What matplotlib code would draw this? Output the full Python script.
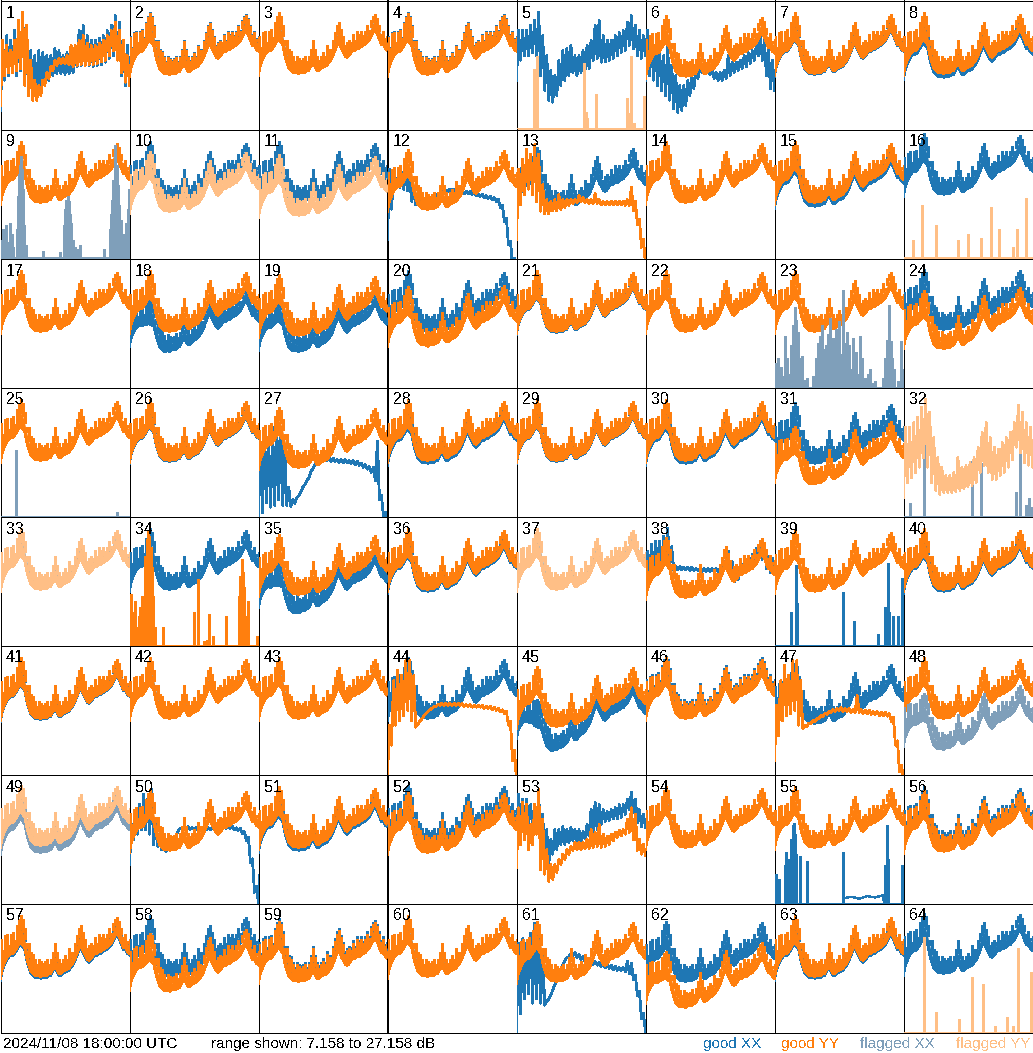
import numpy as np
import matplotlib
matplotlib.use('Agg')
import matplotlib.pyplot as plt

plt.rcParams['font.family'] = ['Liberation Sans', 'DejaVu Sans']
plt.rcParams['text.antialiased'] = False
plt.rcParams['lines.antialiased'] = False
plt.rcParams['patch.antialiased'] = False

DB_MIN, DB_MAX = 7.158, 27.158
TIMESTAMP = '2024/11/08 18:00:00 UTC'
PANELS = list(range(1, 65))

# typical spectrum shape (65 channels): band bottom, band top, spike tips, dB
TYP_LO = [15.5, 17.1, 17.9, 18.6, 19.1, 19.4, 19.4, 19.7, 20.2, 20.7,
          21.0, 20.7, 20.2, 18.6, 17.5, 16.6, 16.3, 16.0, 16.0, 16.0,
          15.8, 16.0, 16.0, 16.0, 16.2, 16.3, 16.9, 17.5, 16.9, 16.3,
          16.3, 16.6, 16.8, 16.9, 17.1, 17.5, 17.9, 18.5, 19.4, 20.2,
          20.7, 19.7, 19.1, 18.5, 18.3, 18.6, 19.1, 19.4, 19.4, 19.7,
          19.7, 20.0, 20.2, 20.3, 20.7, 21.0, 21.6, 22.2, 22.5, 21.9,
          21.0, 20.3, 20.2, 19.7, 19.4]
TYP_TOP = [17.5, 18.6, 19.4, 19.7, 20.2, 20.5, 20.6, 20.9, 21.6, 22.6,
           23.2, 22.8, 21.6, 20.2, 18.9, 17.8, 17.5, 17.1, 17.2, 17.0,
           16.9, 17.2, 17.0, 17.1, 17.3, 17.5, 18.3, 19.0, 18.2, 17.4,
           17.5, 17.8, 18.0, 18.1, 18.4, 18.8, 19.2, 19.8, 20.9, 21.9,
           22.3, 21.2, 20.4, 19.7, 19.5, 19.8, 20.3, 20.6, 20.6, 20.9,
           20.9, 21.2, 21.4, 21.5, 21.9, 22.3, 23.0, 23.8, 24.0, 23.4,
           22.4, 21.6, 21.4, 21.0, 20.6]
TYP_PK = [21.7, 20.0, 22.2, 22.5, 20.8, 22.5, 22.8, 21.5, 23.8, 24.8,
          25.3, 24.8, 23.3, 21.0, 21.0, 19.7, 19.4, 18.6, 17.8, 18.6,
          18.2, 18.0, 18.2, 18.6, 17.8, 18.6, 19.7, 21.0, 19.7, 18.6,
          18.0, 18.6, 19.1, 18.6, 20.2, 19.7, 19.6, 21.0, 22.2, 23.3,
          23.8, 22.8, 21.7, 20.2, 20.7, 21.0, 20.8, 21.9, 21.0, 22.5,
          22.0, 22.5, 21.8, 22.5, 23.3, 22.6, 24.1, 24.8, 25.1, 24.4,
          23.3, 22.0, 22.5, 21.4, 21.7]
# relative shape of the low-band trough seen in some XX/YY spectra
DIP = [0.0, 0.1, 0.2, 0.3, 0.4, 0.5, 0.6, 0.7, 1.0, 1.4,
       1.6, 1.5, 1.2, 1.0, 1.0, 1.0, 1.0, 1.0, 1.0, 0.95,
       0.9, 0.85, 0.8, 0.75, 0.7, 0.65, 0.6, 0.55, 0.5, 0.45,
       0.4, 0.35, 0.3, 0.25, 0.2, 0.15, 0.1, 0.05, 0.0, 0.0,
       0.0, 0.0, 0.0, 0.0, 0.0, 0.0, 0.0, 0.0, 0.0, 0.0,
       0.0, 0.0, 0.0, 0.0, 0.0, 0.0, 0.0, 0.0, 0.0, 0.0,
       0.0, 0.0, 0.0, 0.0, 0.0]

# per-antenna level shift (dB) and trough depth (dB), panels 1..64
XX_OFF = [0, 0, 0, 0, 0, 0, -0.15, -0.6,
          0, 0, 0, 0, -0.8, 0, -0.6, 1.25,
          0, -2.0, -2.6, 0, -0.15, 0, 0, 0.3,
          0, -0.15, 0, -0.45, -0.15, -0.45, -0.45, 0,
          0, 0, -2.5, -0.3, 0, 0, 0, -0.3,
          -0.15, 0, 0, 0, -2.8, 0.3, -0.8, -4.0,
          -0.8, 0, -0.45, 0.3, 0, 0, 0, 0,
          -0.3, 0, -0.45, 0, 0, -0.8, -0.3, 0.45]
YY_OFF = [0, -0.15, 0, -0.15, 0, -0.45, 0, 0,
          0, -1.4, -2.0, -1.1, 0, 0, 0, 0,
          0, 0, -0.6, -2.0, 0, 0, 0, -2.3,
          0, 0, -1.1, 0, 0, 0, -3.1, 0,
          0, 0, -0.8, 0, 0, -1.25, -0.3, 0,
          0, 0, 0, 0, -1.25, 0, 0, 0,
          0.3, -0.45, 0, -0.8, 0, 0, 0, -0.6,
          0, -1.85, -0.8, 0, -0.8, -3.9, 0, 0]
XX_DIP = {18: 1.25, 19: 0.6, 35: 1.25, 45: 2.3, 48: 0.9}
YY_DIP = {20: 0.3, 24: 0.45, 31: 0.6, 58: 0.5, 62: 1.0}

XX_FLAGGED = [9, 23, 25, 32, 48, 49]
YY_FLAGGED = [5, 10, 11, 16, 32, 33, 37, 49, 64]

# irregular spectra, 33 channels: lower / upper edge of the trace, dB
P1_XX_LO = [10.1, 14.8, 15.5, 16.0, 15.5, 16.3, 14.0, 12.4, 12.0, 12.4, 12.9, 14.0, 14.8, 15.5, 15.8, 15.8, 15.7,
            15.8, 16.0, 16.9, 17.1, 17.1, 17.1, 16.9, 17.1, 17.2, 17.6, 18.2, 18.6, 17.9, 15.5, 14.0, 14.8]
P1_XX_HI = [21.0, 21.7, 21.0, 22.5, 24.1, 25.3, 22.5, 19.4, 18.6, 19.4, 19.1, 18.6, 18.6, 19.7, 19.4, 18.6, 19.1,
            18.6, 19.4, 22.5, 23.3, 21.7, 21.0, 21.0, 21.3, 21.7, 22.5, 23.3, 24.8, 23.8, 21.0, 20.2, 19.4]
P1_YY_LO = [10.9, 15.5, 16.0, 16.0, 16.3, 16.6, 14.0, 12.4, 11.7, 11.7, 12.4, 14.0, 15.1, 16.3, 17.1, 17.4, 17.4,
            17.2, 16.9, 17.1, 17.2, 17.1, 17.2, 17.2, 17.4, 17.6, 17.9, 18.6, 19.4, 17.9, 16.0, 14.5, 14.0]
P1_YY_HI = [21.0, 20.2, 19.4, 21.0, 24.1, 25.3, 23.3, 17.9, 14.8, 14.0, 14.8, 16.0, 16.9, 17.9, 18.2, 18.2, 18.6,
            20.2, 20.2, 21.0, 21.7, 20.6, 20.2, 20.2, 20.6, 21.0, 21.7, 22.5, 23.8, 22.5, 21.0, 18.6, 17.9]
P5_XX_LO = [14.8, 17.9, 18.6, 18.6, 19.1, 18.6, 15.5, 13.2, 11.7, 11.4, 12.4, 14.0, 14.8, 15.5, 16.0, 15.5, 16.0,
            16.3, 16.6, 17.9, 18.2, 17.6, 17.6, 17.9, 18.2, 18.6, 19.1, 19.4, 20.2, 19.7, 18.6, 18.2, 18.6]
P5_XX_HI = [22.5, 22.5, 22.5, 23.3, 24.1, 25.3, 21.7, 18.6, 16.3, 15.5, 17.9, 19.4, 19.7, 20.2, 18.6, 18.6, 19.4,
            20.2, 21.0, 23.3, 24.1, 21.7, 21.0, 21.0, 21.7, 22.2, 22.5, 23.8, 24.8, 23.3, 22.5, 21.7, 22.5]
P6_XX_LO = [14.8, 15.5, 14.8, 14.0, 13.2, 12.4, 11.7, 10.4, 9.8, 10.1, 10.9, 12.4, 13.5, 15.1, 16.0, 16.3, 15.7,
            15.1, 14.8, 14.8, 15.1, 15.5, 16.0, 16.3, 16.6, 16.9, 17.4, 17.9, 18.6, 17.9, 15.5, 13.5, 13.2]
P6_XX_HI = [22.5, 21.0, 20.2, 19.4, 18.6, 20.2, 17.1, 15.5, 14.0, 14.0, 14.8, 15.5, 16.0, 16.6, 16.9, 16.9, 16.6,
            16.0, 16.0, 16.3, 18.6, 17.6, 17.6, 17.9, 18.6, 19.1, 19.4, 20.2, 21.7, 21.0, 19.4, 17.9, 17.1]
P12_XX_LO = [10.1, 14.8, 17.9, 18.2, 17.9, 17.6, 16.0, 15.5, 15.7, 15.8, 16.0, 16.3, 16.8, 17.2, 17.4, 17.6, 17.6,
             17.6, 17.4, 17.2, 17.2, 17.1, 16.9, 16.8, 16.6, 16.5, 16.3, 16.0, 15.1, 12.9, 9.3, 6.2, 6.2]
P12_XX_HI = [21.0, 20.2, 19.7, 20.6, 20.2, 19.7, 17.9, 16.0, 16.0, 16.2, 16.3, 16.6, 17.1, 17.6, 17.7, 17.9, 17.9,
             17.9, 17.7, 17.6, 17.6, 17.4, 17.2, 17.1, 16.9, 16.8, 16.6, 16.3, 15.4, 13.4, 9.8, 7.2, 6.2]
P13_YY_LO = [10.1, 15.5, 17.1, 17.9, 17.1, 16.0, 14.5, 14.1, 14.1, 14.5, 14.5, 14.8, 15.1, 15.4, 15.7, 15.8, 16.0,
             15.8, 15.7, 15.7, 15.7, 15.5, 15.5, 15.5, 15.5, 15.5, 15.5, 15.4, 15.4, 14.5, 12.4, 8.9, 6.2]
P13_YY_HI = [21.0, 22.5, 24.1, 23.3, 24.8, 23.3, 18.6, 16.3, 16.0, 16.3, 17.1, 16.3, 16.3, 16.3, 16.3, 16.9, 16.6,
             16.3, 16.3, 17.2, 16.3, 16.0, 16.0, 16.0, 16.0, 16.0, 16.0, 16.3, 18.2, 16.0, 13.2, 10.1, 7.0]
P27_XX_LO = [7.2, 7.8, 9.3, 8.6, 8.9, 9.8, 8.9, 8.9, 8.7, 9.2, 10.4, 11.7, 12.7, 14.1, 15.2, 15.8, 16.0,
             15.8, 15.7, 15.7, 15.5, 15.5, 15.5, 15.4, 15.2, 15.1, 14.8, 14.5, 14.0, 12.7, 9.8, 7.2, 6.2]
P27_XX_HI = [17.9, 20.2, 18.6, 21.0, 21.7, 21.0, 17.9, 11.7, 9.8, 10.1, 11.0, 12.1, 13.2, 14.6, 15.7, 16.3, 16.5,
             16.3, 16.2, 16.0, 16.0, 16.0, 15.8, 15.8, 15.7, 15.4, 15.2, 14.9, 14.8, 18.8, 10.4, 7.8, 6.2]
P32_YY_LO = [10.1, 12.4, 13.2, 14.0, 14.8, 16.3, 14.8, 12.4, 11.2, 10.6, 10.9, 10.9, 10.9, 11.0, 11.2, 11.4, 11.7,
             12.0, 12.4, 14.0, 15.1, 14.0, 12.9, 12.9, 13.5, 14.0, 14.8, 16.0, 17.9, 17.1, 15.5, 15.1, 14.8]
P32_YY_HI = [21.0, 21.0, 21.7, 22.5, 24.1, 25.3, 23.3, 19.4, 16.3, 14.8, 13.5, 13.5, 14.0, 16.3, 14.8, 15.1, 15.5,
             16.3, 17.9, 20.2, 21.7, 19.4, 17.9, 17.6, 18.6, 19.4, 20.2, 21.7, 24.4, 23.3, 21.7, 21.0, 20.2]
P38_XX_LO = [15.5, 17.9, 18.6, 19.4, 19.7, 20.2, 19.4, 18.9, 18.9, 18.9, 18.9, 18.8, 18.8, 18.8, 18.6, 18.6, 18.6,
             18.6, 18.6, 18.2, 19.0, 17.9, 17.0, 17.4, 18.2, 18.5, 19.0, 19.8, 21.0, 20.5, 19.0, 18.5, 18.2]
P38_XX_HI = [21.7, 22.8, 23.3, 23.3, 24.1, 25.3, 22.5, 19.4, 19.4, 19.3, 19.3, 19.3, 19.1, 19.1, 19.1, 19.1, 19.1,
             19.1, 19.1, 20.2, 21.8, 20.2, 19.1, 19.5, 20.2, 20.7, 21.3, 22.3, 23.3, 22.6, 21.0, 20.7, 20.2]
P44_YY_LO = [7.2, 11.7, 14.8, 15.5, 16.3, 17.1, 15.5, 14.5, 15.4, 16.3, 16.9, 17.4, 17.7, 17.9, 17.9, 17.9, 17.9,
             17.9, 17.9, 17.7, 17.7, 17.6, 17.6, 17.6, 17.4, 17.4, 17.2, 17.1, 16.9, 16.6, 14.8, 9.3, 6.2]
P44_YY_HI = [14.8, 21.7, 23.3, 22.5, 24.8, 24.8, 22.5, 14.9, 15.7, 16.6, 17.2, 17.7, 18.0, 18.2, 18.2, 18.2, 18.2,
             18.2, 18.2, 18.0, 18.0, 17.9, 17.9, 17.9, 17.7, 17.7, 17.6, 17.4, 17.2, 16.9, 15.4, 10.9, 7.2]
P47_YY_LO = [9.3, 13.2, 15.5, 16.3, 16.6, 17.1, 14.8, 14.3, 14.6, 15.1, 15.4, 15.8, 16.2, 16.5, 16.8, 16.9, 17.1,
             16.9, 16.9, 16.8, 16.8, 16.8, 16.6, 16.6, 16.5, 16.5, 16.3, 16.3, 16.2, 15.4, 11.7, 7.6, 6.2]
P47_YY_HI = [17.9, 21.7, 24.1, 22.5, 24.8, 24.8, 21.7, 14.8, 15.1, 15.5, 15.8, 16.3, 16.6, 16.9, 17.2, 17.4, 17.6,
             17.4, 17.4, 17.2, 19.4, 17.2, 17.1, 17.1, 16.9, 16.9, 16.8, 16.8, 16.6, 16.0, 12.4, 8.6, 6.2]
P50_XX_LO = [13.2, 17.1, 17.9, 18.6, 18.6, 17.9, 16.3, 16.0, 15.5, 15.2, 16.0, 17.1, 18.3, 18.8, 18.8, 18.6, 18.6,
             18.5, 18.5, 18.6, 18.6, 18.8, 18.8, 18.8, 18.8, 18.8, 18.6, 18.5, 18.0, 16.9, 13.5, 8.9, 7.2]
P50_XX_HI = [19.4, 21.7, 22.5, 24.1, 23.3, 24.8, 20.2, 17.9, 16.6, 15.7, 16.5, 17.6, 18.8, 19.1, 19.1, 18.9, 18.9,
             18.8, 18.8, 18.9, 18.9, 19.1, 19.1, 19.1, 19.1, 19.1, 18.9, 18.8, 18.3, 17.4, 14.1, 9.8, 13.5]
P53_XX_LO = [19.4, 19.4, 19.7, 19.4, 18.9, 17.9, 16.3, 14.0, 13.2, 14.8, 15.5, 16.3, 16.3, 16.6, 16.9, 16.9, 16.9,
             17.2, 17.6, 18.2, 18.6, 19.4, 19.9, 20.0, 20.3, 20.3, 20.5, 21.0, 21.7, 21.3, 19.7, 19.1, 18.9]
P53_XX_HI = [24.1, 23.3, 23.3, 22.5, 22.5, 24.1, 21.0, 18.6, 17.1, 18.6, 18.6, 19.1, 18.6, 18.9, 18.6, 18.6, 18.3,
             19.4, 21.7, 22.8, 22.5, 21.7, 21.4, 21.7, 22.0, 22.5, 22.5, 23.3, 24.4, 23.3, 21.7, 21.0, 20.6]
P53_YY_LO = [12.7, 16.3, 17.1, 15.5, 16.3, 17.9, 12.4, 11.7, 10.6, 10.9, 12.0, 13.2, 14.0, 14.8, 15.4, 15.5, 15.5,
             15.7, 15.7, 15.8, 16.0, 15.8, 16.0, 16.3, 16.9, 17.4, 17.6, 17.9, 18.2, 17.1, 15.4, 14.8, 14.5]
P53_YY_HI = [22.0, 22.8, 22.5, 19.4, 22.5, 24.8, 20.2, 15.5, 13.2, 13.2, 14.0, 14.8, 15.5, 16.0, 16.6, 16.6, 16.6,
             17.1, 18.6, 18.2, 19.4, 17.9, 17.6, 17.9, 18.2, 18.5, 18.6, 20.2, 22.0, 21.0, 17.1, 16.3, 16.0]
P61_XX_LO = [7.2, 10.1, 12.4, 13.2, 11.7, 12.4, 11.7, 11.4, 12.3, 13.8, 15.5, 16.9, 18.3, 18.9, 19.1, 18.8, 18.5,
             18.2, 17.9, 17.7, 17.6, 17.4, 17.2, 17.1, 16.9, 16.8, 16.8, 16.6, 16.3, 15.4, 12.9, 9.3, 7.2]
P61_XX_HI = [21.0, 21.7, 21.0, 22.5, 24.1, 23.3, 19.4, 12.0, 12.9, 14.5, 16.2, 17.6, 18.8, 19.4, 19.6, 19.3, 18.9,
             18.6, 18.3, 18.2, 18.0, 17.9, 17.7, 17.6, 17.4, 17.2, 17.2, 18.2, 17.9, 16.0, 13.5, 10.1, 7.2]

# mostly-blank spectra: (channel fraction, dB) of the few channels that rise above the floor
P5_YY_SPK = [(0.134, 16.6), (0.16, 18.6), (0.52, 17.4), (0.535, 9.8), (0.55, 8.9), (0.62, 12.7),
             (0.86, 12.1), (0.87, 9.7), (0.89, 18.5), (0.91, 8.1), (0.99, 12.3)]
P9_XX_SPK = [(0.01, 10.1), (0.02, 11.7), (0.03, 8.9), (0.045, 12.4), (0.06, 9.7), (0.075, 12.7),
             (0.09, 10.9), (0.1, 8.9), (0.125, 11.7), (0.135, 16.8), (0.145, 20.2), (0.155, 21.7),
             (0.16, 23.0), (0.165, 21.0), (0.175, 17.9), (0.185, 12.4), (0.2, 9.3), (0.33, 8.3),
             (0.46, 8.1), (0.49, 12.4), (0.5, 14.8), (0.51, 16.3), (0.52, 16.8), (0.53, 16.0),
             (0.54, 14.0), (0.55, 12.7), (0.565, 10.1), (0.58, 8.9), (0.6, 8.6), (0.62, 9.3),
             (0.8, 8.6), (0.845, 11.7), (0.855, 14.0), (0.865, 16.3), (0.875, 19.4), (0.885, 22.5),
             (0.89, 24.8), (0.9, 21.7), (0.91, 18.6), (0.92, 15.5), (0.935, 13.2), (0.95, 10.9),
             (0.97, 12.7), (0.985, 14.8), (0.995, 17.9)]
P16_YY_SPK = [(0.07, 10.1), (0.14, 15.5), (0.25, 12.4), (0.42, 10.1), (0.5, 10.9), (0.6, 10.4),
              (0.68, 15.1), (0.74, 11.7), (0.85, 8.9), (0.88, 11.7), (0.95, 16.6)]
P23_XX_SPK = [(0.01, 10.9), (0.02, 9.3), (0.03, 11.7), (0.04, 8.6), (0.05, 10.4), (0.065, 8.9),
              (0.08, 15.2), (0.09, 10.1), (0.1, 11.7), (0.115, 9.3), (0.13, 13.7), (0.14, 16.8),
              (0.15, 14.8), (0.16, 19.7), (0.17, 17.6), (0.18, 15.8), (0.195, 11.7), (0.21, 12.1),
              (0.23, 8.3), (0.25, 8.6), (0.3, 8.9), (0.32, 11.7), (0.335, 14.0), (0.35, 15.2),
              (0.36, 12.4), (0.37, 16.8), (0.385, 13.2), (0.4, 13.7), (0.415, 15.5), (0.43, 17.9),
              (0.44, 12.4), (0.45, 14.8), (0.465, 11.7), (0.48, 16.3), (0.49, 13.5), (0.5, 17.4),
              (0.515, 12.4), (0.53, 22.2), (0.54, 14.0), (0.56, 15.8), (0.57, 11.7), (0.58, 13.7),
              (0.595, 10.1), (0.61, 14.8), (0.625, 10.9), (0.63, 12.7), (0.65, 9.3), (0.66, 15.2),
              (0.675, 10.1), (0.68, 11.7), (0.695, 8.6), (0.71, 8.6), (0.725, 9.3), (0.74, 10.1),
              (0.76, 7.8), (0.78, 8.1), (0.84, 8.6), (0.855, 11.7), (0.87, 14.5), (0.88, 12.4),
              (0.89, 19.9), (0.9, 14.3), (0.91, 11.7), (0.93, 10.1), (0.96, 8.1), (0.98, 14.3),
              (0.99, 10.1)]
P25_XX_SPK = [(0.12, 17.4), (0.9, 7.8)]
P32_XX_SPK = [(0.05, 9.2), (0.16, 21.3), (0.53, 15.8), (0.6, 15.4), (0.87, 11.0), (0.9, 20.3),
              (0.95, 8.9), (0.97, 10.1), (0.99, 8.6)]
P34_YY_SPK = [(0.005, 10.1), (0.015, 15.2), (0.025, 12.4), (0.04, 14.0), (0.055, 10.1), (0.07, 11.7),
              (0.085, 13.2), (0.1, 14.8), (0.12, 21.0), (0.135, 23.6), (0.145, 25.1), (0.155, 24.1),
              (0.165, 22.5), (0.175, 19.4), (0.185, 14.8), (0.2, 10.1), (0.26, 10.1), (0.5, 12.4),
              (0.53, 17.4), (0.58, 7.8), (0.6, 8.0), (0.62, 12.1), (0.65, 8.6), (0.75, 11.7),
              (0.85, 14.8), (0.86, 17.9), (0.87, 20.5), (0.88, 18.6), (0.89, 16.3), (0.9, 11.7),
              (0.915, 14.0), (0.99, 8.6)]
P39_XX_SPK = [(0.13, 12.3), (0.165, 19.7), (0.175, 13.7), (0.53, 15.5), (0.62, 11.0), (0.8, 9.0),
              (0.86, 13.1), (0.88, 19.9), (0.89, 12.3), (0.92, 11.8), (0.96, 11.7), (0.99, 17.6)]
P55_XX_SPK = [(0.005, 10.1), (0.015, 11.7), (0.025, 9.3), (0.035, 10.9), (0.08, 13.2), (0.09, 15.2),
              (0.1, 12.4), (0.11, 14.0), (0.13, 17.1), (0.14, 19.4), (0.15, 19.7), (0.16, 17.9),
              (0.17, 14.8), (0.2, 14.5), (0.25, 13.7), (0.53, 15.2), (0.86, 13.2), (0.87, 19.4),
              (0.88, 14.0), (0.99, 13.2)]
P55_XX_BASE = [(0.54, 8.0), (0.6, 8.2), (0.66, 7.9), (0.72, 8.3), (0.78, 8.1), (0.84, 8.4), (0.85, 7.2)]
P64_YY_SPK = [(0.16, 21.9), (0.25, 10.3), (0.43, 9.2), (0.53, 15.8), (0.62, 14.6), (0.71, 8.1),
              (0.8, 9.5), (0.85, 8.1), (0.89, 20.3), (0.99, 16.5)]

CUSTOM_XX = {1: (P1_XX_LO, P1_XX_HI), 5: (P5_XX_LO, P5_XX_HI), 6: (P6_XX_LO, P6_XX_HI),
             12: (P12_XX_LO, P12_XX_HI), 27: (P27_XX_LO, P27_XX_HI), 38: (P38_XX_LO, P38_XX_HI),
             50: (P50_XX_LO, P50_XX_HI), 53: (P53_XX_LO, P53_XX_HI), 61: (P61_XX_LO, P61_XX_HI)}
CUSTOM_YY = {1: (P1_YY_LO, P1_YY_HI), 13: (P13_YY_LO, P13_YY_HI), 32: (P32_YY_LO, P32_YY_HI),
             44: (P44_YY_LO, P44_YY_HI), 47: (P47_YY_LO, P47_YY_HI), 53: (P53_YY_LO, P53_YY_HI)}
SPIKES_XX = {9: P9_XX_SPK, 23: P23_XX_SPK, 25: P25_XX_SPK, 32: P32_XX_SPK, 39: P39_XX_SPK, 55: P55_XX_SPK}
SPIKES_YY = {5: P5_YY_SPK, 16: P16_YY_SPK, 34: P34_YY_SPK, 64: P64_YY_SPK}

C_GOOD_XX = '#1f77b4'
C_GOOD_YY = '#ff7f0e'
C_FLAG_XX = '#7f9fba'
C_FLAG_YY = '#ffbf86'

XT = np.arange(len(TYP_LO)) / (len(TYP_LO) - 1)


def draw_typical(ax, off, dip, color, z):
    shift = off - dip * np.array(DIP)
    lo = np.array(TYP_LO) + shift
    top = np.array(TYP_TOP) + shift
    pk = np.array(TYP_PK) + shift
    ax.fill_between(XT, lo, top, color=color, lw=0, zorder=z)
    ax.plot(XT, lo, color=color, lw=1, zorder=z)
    ax.vlines(XT, top, pk, color=color, lw=1.0, antialiased=False, zorder=z)


def draw_custom(ax, lo, hi, color, z):
    n = len(lo)
    xc = np.arange(n) / (n - 1)
    xs = np.empty(2 * n)
    ys = np.empty(2 * n)
    xs[0::2] = xc
    xs[1::2] = xc + 0.5 / (n - 1)
    ys[0::2] = lo
    ys[1::2] = hi
    ax.plot(xs, ys, color=color, lw=1.3, zorder=z)


def draw_spikes(ax, spikes, color, z, base=None):
    ax.plot([0, 1], [DB_MIN, DB_MIN], color=color, lw=2, zorder=z)
    pos = [p for p, v in spikes]
    val = [v for p, v in spikes]
    ax.vlines(pos, DB_MIN, val, color=color, lw=1.0, antialiased=False, zorder=z)
    if base is not None:
        ax.plot([p for p, v in base], [v for p, v in base], color=color, lw=1, zorder=z)


W, H = 1033, 1053
fig = plt.figure(figsize=(W / 100, H / 100), dpi=100)
fig.patch.set_facecolor('white')

for i, n in enumerate(PANELS):
    r, c = divmod(i, 8)
    x0 = c * 129 + 0.5
    y0 = r * 129 + 0.5
    ax = fig.add_axes([x0 / W, (H - y0 - 129) / H, 129 / W, 129 / H])
    ax.set_xlim(0, 1)
    ax.set_ylim(DB_MIN, DB_MAX)
    ax.set_xticks([])
    ax.set_yticks([])
    for sp in ax.spines.values():
        sp.set_linewidth(0.7)
        sp.set_color('black')
        sp.set_zorder(1.5)

    # XX
    fl = n in XX_FLAGGED
    col = C_FLAG_XX if fl else C_GOOD_XX
    z = 4 if fl else 2
    if n in CUSTOM_XX:
        draw_custom(ax, *CUSTOM_XX[n], col, z)
    elif n in SPIKES_XX:
        draw_spikes(ax, SPIKES_XX[n], col, z, P55_XX_BASE if n == 55 else None)
    else:
        draw_typical(ax, XX_OFF[i], XX_DIP.get(n, 0), col, z)

    # YY
    fl = n in YY_FLAGGED
    col = C_FLAG_YY if fl else C_GOOD_YY
    z = 5 if fl else 3
    if n in CUSTOM_YY:
        draw_custom(ax, *CUSTOM_YY[n], col, z)
    elif n in SPIKES_YY:
        draw_spikes(ax, SPIKES_YY[n], col, z)
    else:
        draw_typical(ax, YY_OFF[i], YY_DIP.get(n, 0), col, z)

    ax.text(5.5 / 129, 1 - 5 / 129, str(n), transform=ax.transAxes, ha='left', va='top',
            fontsize=11.5, color='black', zorder=10)

base_y = (H - 1048) / H
fig.text(3 / W, base_y, TIMESTAMP, fontsize=11, va='baseline', ha='left')
fig.text(211 / W, base_y, 'range shown: %.3f to %.3f dB' % (DB_MIN, DB_MAX), fontsize=11,
         va='baseline', ha='left')
fig.text(703 / W, base_y, 'good XX', fontsize=11, color=C_GOOD_XX, va='baseline', ha='left')
fig.text(781 / W, base_y, 'good YY', fontsize=11, color=C_GOOD_YY, va='baseline', ha='left')
fig.text(860 / W, base_y, 'flagged XX', fontsize=11, color=C_FLAG_XX, va='baseline', ha='left')
fig.text(1031 / W, base_y, 'flagged YY', fontsize=11, color=C_FLAG_YY, va='baseline', ha='right')

fig.savefig('out.png', dpi=100, facecolor='white')
